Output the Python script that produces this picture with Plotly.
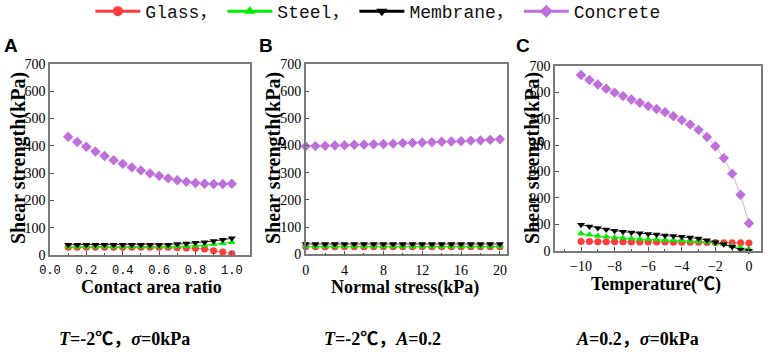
import plotly.graph_objects as go

# ---------------- data ----------------
ratio = [0.1, 0.15, 0.2, 0.25, 0.3, 0.35, 0.4, 0.45, 0.5, 0.55, 0.6, 0.65, 0.7, 0.75, 0.8, 0.85, 0.9, 0.95, 1.0]
glass_A = [28, 28, 28, 28, 28, 28, 28, 28, 28, 28, 28, 28, 27, 26, 25, 22, 16, 11, 5]
steel_A = [30, 30, 30, 30, 30, 30, 30, 30, 30, 30, 30, 30, 31, 32, 34, 36, 39, 43, 47]
membrane_A = [38, 38, 38, 38, 38, 38, 38, 38, 38, 38, 38, 38, 40, 42, 45, 47, 51, 56, 61]
concrete_A = [433, 414, 397, 379, 363, 347, 334, 321, 310, 299, 290, 281, 274, 268, 264, 261, 260, 260, 261]

stress = [0, 1, 2, 3, 4, 5, 6, 7, 8, 9, 10, 11, 12, 13, 14, 15, 16, 17, 18, 19, 20]
glass_B = [28, 28, 28, 28, 28, 28, 28, 28, 28, 28, 28, 28, 28, 28, 28, 28, 28, 28, 28, 28, 28]
steel_B = [29, 29, 29, 29, 29, 29, 29, 29, 29, 29, 29, 29, 29, 29, 29, 29, 29, 29, 29, 29, 29]
membrane_B = [38, 38, 38, 38, 38, 38, 38, 38, 38, 38, 38, 38, 38, 38, 38, 38, 38, 38, 38, 38, 38]
concrete_B = [397, 398, 399, 400, 401, 403, 404, 405, 406, 407, 409, 410, 411, 412, 414, 415, 416, 418, 419, 421, 423]

temp = [-10, -9.5, -9, -8.5, -8, -7.5, -7, -6.5, -6, -5.5, -5, -4.5, -4, -3.5, -3, -2.5, -2, -1.5, -1, -0.5, 0]
glass_C = [35, 35, 34, 34, 34, 34, 33, 33, 33, 33, 33, 32, 32, 32, 32, 31, 31, 30, 30, 30, 29]
steel_C = [65, 60, 56, 53, 50, 48, 46, 44, 43, 42, 41, 40, 39, 37, 35, 33, 29, 24, 18, 11, 6]
membrane_C = [98, 92, 86, 80, 76, 72, 69, 66, 63, 61, 58, 56, 53, 50, 46, 40, 32, 24, 15, 4, 0]
concrete_C = [666, 647, 630, 614, 599, 586, 573, 561, 548, 537, 525, 510, 495, 478, 458, 431, 396, 351, 292, 212, 104]

series_names = ["Glass，", "Steel，", "Membrane，", "Concrete"]
y_ticks = [0, 100, 200, 300, 400, 500, 600, 700]
a_ticks = [0.0, 0.2, 0.4, 0.6, 0.8, 1.0]
a_ticklabels = ["0.0", "0.2", "0.4", "0.6", "0.8", "1.0"]
b_ticks = [0, 4, 8, 12, 16, 20]
c_ticks = [-10, -8, -6, -4, -2, 0]

# ---------------- styles ----------------
styles = [
    dict(mcolor="#FF3B3B", lcolor="#FF6A6A", symbol="circle", size=7),
    dict(mcolor="#00EE00", lcolor="#22DD22", symbol="triangle-up", size=7),
    dict(mcolor="#000000", lcolor="#333333", symbol="triangle-down", size=7),
    dict(mcolor="#BE6FDC", lcolor="#D7AEEC", symbol="diamond", size=8),
]

fig = go.Figure()

panels = [
    ("x", "y", ratio, [glass_A, steel_A, membrane_A, concrete_A]),
    ("x2", "y2", stress, [glass_B, steel_B, membrane_B, concrete_B]),
    ("x3", "y3", temp, [glass_C, steel_C, membrane_C, concrete_C]),
]
for xa, ya, xs, ys_list in panels:
    for name, st, ys in zip(series_names, styles, ys_list):
        fig.add_trace(go.Scatter(
            x=xs, y=ys, xaxis=xa, yaxis=ya, mode="lines+markers", name=name,
            showlegend=False, cliponaxis=False,
            line=dict(color=st["lcolor"], width=1),
            marker=dict(color=st["mcolor"], symbol=st["symbol"], size=st["size"]),
        ))

# legend entries (no data)
for name, st in zip(series_names, styles):
    fig.add_trace(go.Scatter(
        x=[None], y=[None], mode="lines+markers", name=name, showlegend=True,
        line=dict(color=st["mcolor"], width=3),
        marker=dict(color=st["mcolor"], symbol=st["symbol"], size=10),
    ))

W, H = 768, 352
def fx(px):
    return px / W
def fy(py):
    return 1 - py / H

serif_ticks = dict(family="Liberation Serif", size=14, color="#000000")
mono_ticks = dict(family="Liberation Mono", size=12, color="#000000")

def axis(**kw):
    d = dict(
        showline=True, linecolor="#7A7A7A", linewidth=1.5, mirror=True,
        ticks="inside", ticklen=4, tickcolor="#555555", showgrid=False, zeroline=False,
        automargin=False, tickfont=serif_ticks,
    )
    d.update(kw)
    return d

minor = lambda dt: dict(dtick=dt, ticks="inside", ticklen=2, tickcolor="#555555")

fig.update_layout(
    width=W, height=H,
    margin=dict(l=0, r=0, t=0, b=0, autoexpand=False),
    paper_bgcolor="white", plot_bgcolor="white",
    showlegend=True,
    legend=dict(orientation="h", x=0.492, xanchor="center", y=1.02, yanchor="top",
                font=dict(family="Liberation Mono, Noto Sans CJK SC", size=18, color="#111111"),
                itemwidth=45, bgcolor="rgba(0,0,0,0)"),
    xaxis=axis(domain=[fx(50), fx(250)], range=[0, 1.1], tickvals=a_ticks, ticktext=a_ticklabels,
               minor=minor(0.1), anchor="y", tickfont=mono_ticks, ticklabelstandoff=3),
    yaxis=axis(domain=[fy(255), fy(64)], range=[0, 700], tickvals=y_ticks, anchor="x"),
    xaxis2=axis(domain=[fx(305.7), fx(506.7)], range=[0, 20.7], tickvals=b_ticks,
                minor=minor(2), anchor="y2", ticklabelstandoff=2),
    yaxis2=axis(domain=[fy(254.3), fy(64)], range=[0, 700], tickvals=y_ticks, anchor="x2"),
    xaxis3=axis(domain=[fx(555), fx(760.7)], range=[-11.55, 0.7], tickvals=c_ticks,
                minor=minor(1), anchor="y3", ticklabelstandoff=2),
    yaxis3=axis(domain=[fy(250.7), fy(66)], range=[0, 700], tickvals=y_ticks, anchor="x3"),
)

annotations = []
title_font_x = dict(family="Liberation Serif, Noto Sans CJK SC", size=18, color="#000000")
title_font_y = dict(family="Liberation Serif", size=20, color="#000000")
# x titles
for text, cx, cy in [("Contact area ratio", 151, 287), ("Normal stress(kPa)", 405, 287), ("Temperature(℃)", 656, 284)]:
    annotations.append(dict(text=f"<b>{text}</b>", x=fx(cx), y=fy(cy), xref="paper", yref="paper",
                            xanchor="center", yanchor="middle", showarrow=False, font=title_font_x))
# y titles
for cx, cy in [(18, 158), (273, 158), (532, 158)]:
    annotations.append(dict(text="<b>Shear strength(kPa)</b>", x=fx(cx), y=fy(cy), xref="paper", yref="paper",
                            xanchor="center", yanchor="middle", textangle=-90, showarrow=False, font=title_font_y))
# panel letters
for text, lx in [("A", 2), ("B", 257), ("C", 514)]:
    annotations.append(dict(text=f"<b>{text}</b>", x=fx(lx), y=fy(46), xref="paper", yref="paper",
                            xanchor="left", yanchor="middle", showarrow=False,
                            font=dict(family="Liberation Sans", size=19, color="#000000")))
# bottom condition captions
cap_font = dict(family="Liberation Serif, Noto Sans CJK SC", size=18, color="#000000")
for text, cx in [("<b><i>T</i>=-2℃，<i>σ</i>=0kPa</b>", 124),
                 ("<b><i>T</i>=-2℃，<i>A</i>=0.2</b>", 382),
                 ("<b><i>A</i>=0.2，<i>σ</i>=0kPa</b>", 637)]:
    annotations.append(dict(text=text, x=fx(cx), y=fy(339), xref="paper", yref="paper",
                            xanchor="center", yanchor="middle", showarrow=False, font=cap_font))
fig.update_layout(annotations=annotations)

fig.write_html("out.html", config={"displayModeBar": False},
               post_script="document.body.style.margin='0px';document.body.style.overflow='hidden';")
